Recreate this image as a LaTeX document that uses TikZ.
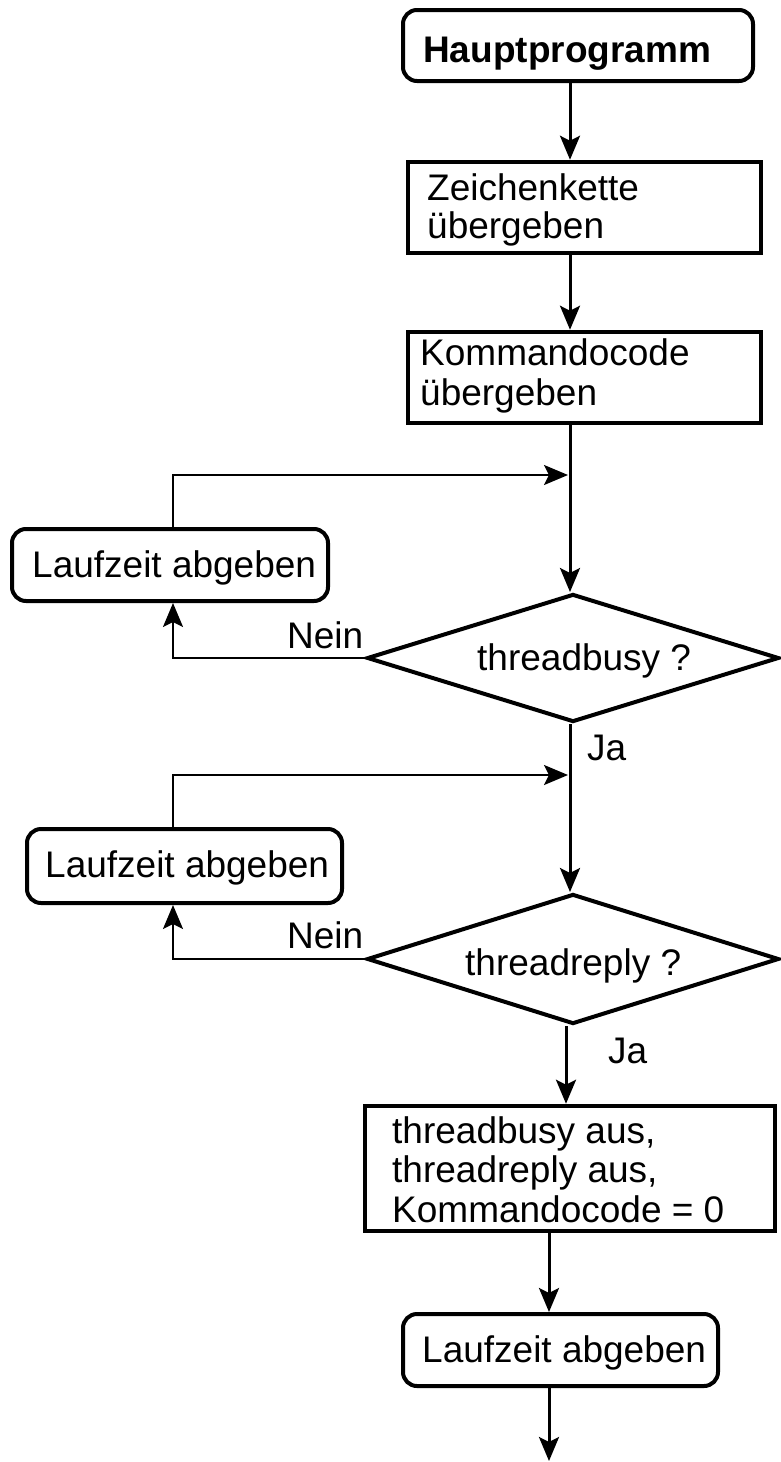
\documentclass[tikz,border=0pt]{standalone}
\usepackage{fontspec}
\setmainfont{Liberation Sans}
\usetikzlibrary{arrows.meta,shapes.geometric}

\tikzset{
  txt/.style={font=\fontsize{37}{39}\selectfont, inner sep=0pt, anchor=base west},
  bold/.style={txt, font=\fontsize{37}{39}\selectfont\bfseries},
  procbox/.style={draw, line width=4.5pt, inner sep=0pt},
  roundbox/.style={draw, line width=4pt, rounded corners=14pt, inner sep=0pt},
  decision/.style={draw, diamond, line width=4pt, inner sep=0pt, line join=miter},
  tip/.style={-{Stealth[length=24pt, width=20pt, inset=5pt]}},
  flow/.style={line width=3pt, tip},
  back/.style={line width=2.4pt, tip},
}

\begin{document}
\begin{tikzpicture}[x=1pt, y=-1pt]
\useasboundingbox (0,0) rectangle (781,1462);

% guide coordinates for the vertical flow lines
\coordinate (spine) at (570,0);
\coordinate (spineB) at (566,0);
\coordinate (spineC) at (549,0);
\coordinate (loopx) at (173,0);
\coordinate (mergeA) at (568,475);
\coordinate (mergeB) at (568,775);
\coordinate (finish) at (549,1461);

% boxes
\node[roundbox, minimum width=350pt, minimum height=71pt] (haupt) at (578,45.5) {};
\node[procbox, minimum width=353pt, minimum height=91pt] (zeichen) at (584.5,207.5) {};
\node[procbox, minimum width=353pt, minimum height=91pt] (kommando) at (584.5,377.5) {};
\node[roundbox, minimum width=316pt, minimum height=72pt] (laufA) at (170,565) {};
\node[decision, minimum width=412pt, minimum height=128pt] (busy) at (573,658) {};
\node[roundbox, minimum width=315pt, minimum height=74pt] (laufB) at (184.5,866) {};
\node[decision, minimum width=412pt, minimum height=130pt] (reply) at (573,959) {};
\node[procbox, minimum width=410pt, minimum height=125pt] (reset) at (570,1168.5) {};
\node[roundbox, minimum width=315pt, minimum height=72pt] (laufC) at (560.5,1350) {};

% texts
\node[bold] (tHaupt) at (423,62) {Hauptprogramm};
\node[txt] (tZeichenA) at (427,200) {Zeichenkette};
\node[txt] (tZeichenB) at (427,238) {übergeben};
\node[txt] (tKommandoA) at (420,365) {Kommandocode};
\node[txt] (tKommandoB) at (420,405) {übergeben};
\node[txt] (tLaufA) at (32,577) {Laufzeit abgeben};
\node[txt] (tNeinA) at (287,648) {Nein};
\node[txt] (tBusy) at (477,670) {threadbusy ?};
\node[txt] (tJaA) at (587,760) {Ja};
\node[txt] (tLaufB) at (45,877) {Laufzeit abgeben};
\node[txt] (tNeinB) at (287,948) {Nein};
\node[txt] (tReply) at (465,975) {threadreply ?};
\node[txt] (tJaB) at (608,1063) {Ja};
\node[txt] (tResetA) at (392,1143) {threadbusy aus,};
\node[txt] (tResetB) at (392,1182) {threadreply aus,};
\node[txt] (tResetC) at (392,1222) {Kommandocode = 0};
\node[txt] (tLaufC) at (422,1362) {Laufzeit abgeben};

% main flow
\draw[flow] (haupt.south -| spine) -- (zeichen.north -| spine);
\draw[flow] (zeichen.south -| spine) -- (kommando.north -| spine);
\draw[flow] (kommando.south -| spine) -- (spine |- busy.north);
\draw[flow] (spine |- busy.south) -- (spine |- reply.north);
\draw[flow] (spineB |- reply.south) -- (reset.north -| spineB);
\draw[flow] (reset.south -| spineC) -- (laufC.north -| spineC);
\draw[flow] (laufC.south -| spineC) -- (finish);

% waiting loops
\draw[back] (laufA.north -| loopx) |- (mergeA);
\draw[back] (busy.west) -| (laufA.south -| loopx);
\draw[back] (laufB.north -| loopx) |- (mergeB);
\draw[back] (reply.west) -| (laufB.south -| loopx);
\end{tikzpicture}
\end{document}
